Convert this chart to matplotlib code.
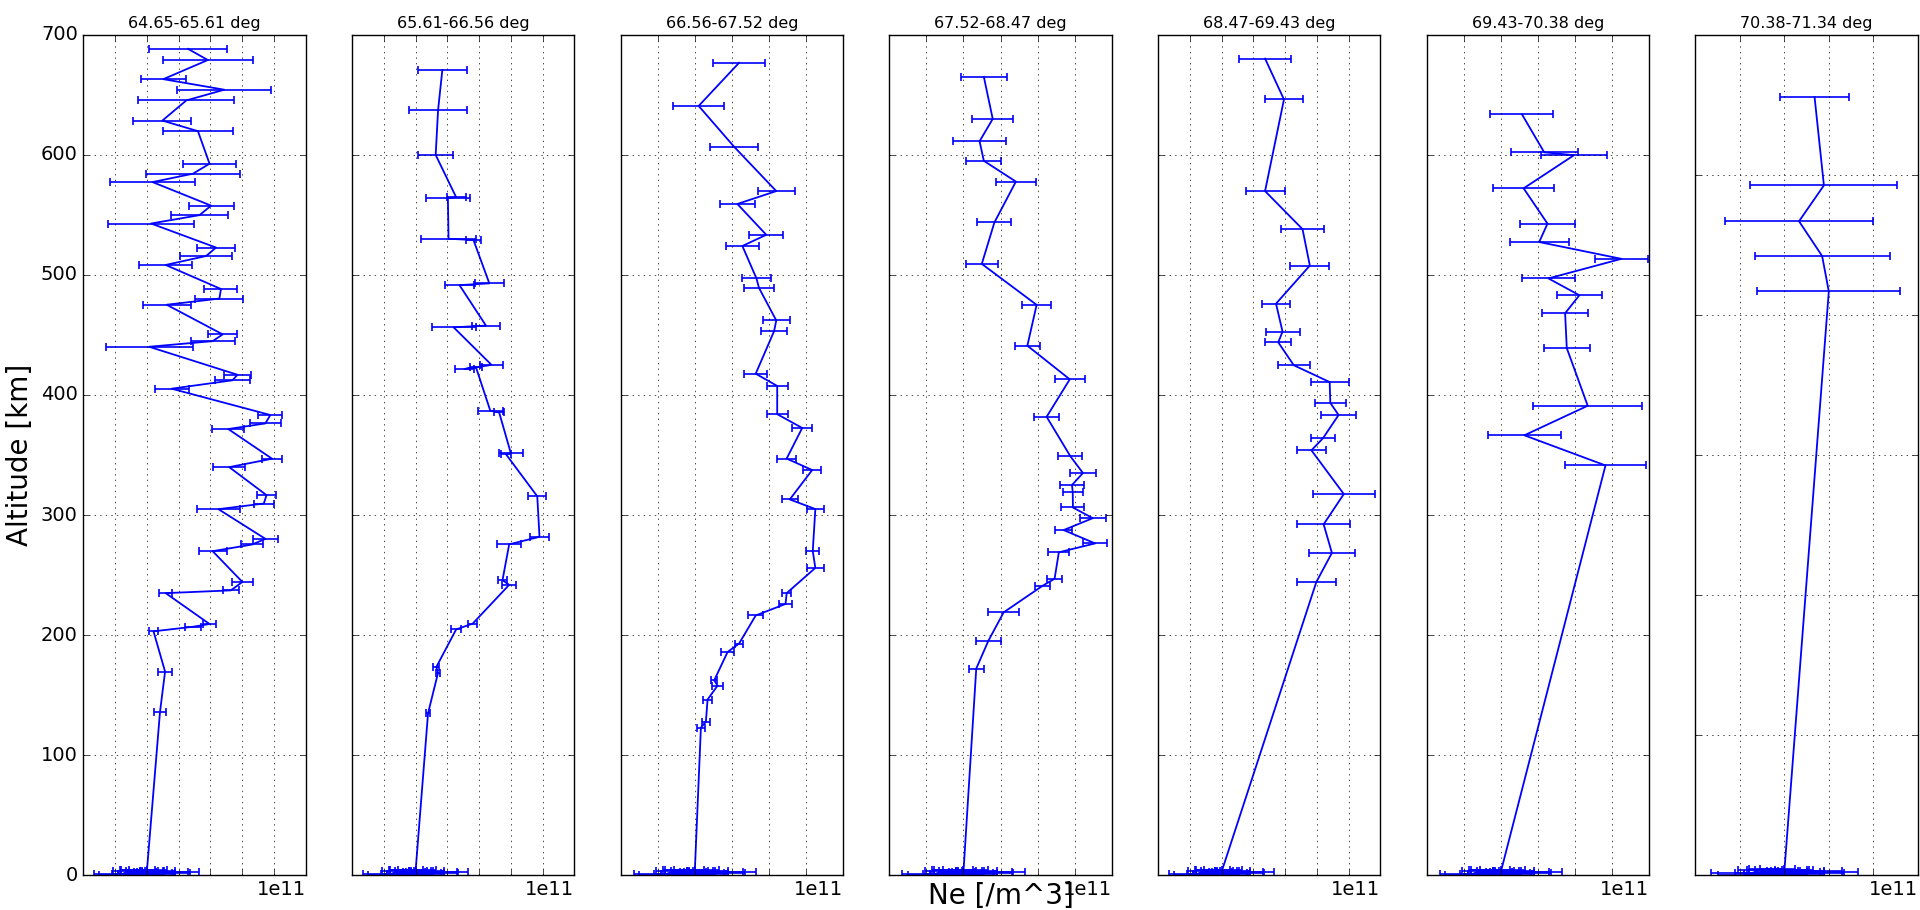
import numpy as np
import matplotlib
matplotlib.use("Agg")
import matplotlib.pyplot as plt

# electron density is kept in units of 1e11 m^-3
NE_UNIT = 1e11

titles = [
    "64.65-65.61 deg", "65.61-66.56 deg", "66.56-67.52 deg", "67.52-68.47 deg",
    "68.47-69.43 deg", "69.43-70.38 deg", "70.38-71.34 deg",
]

alt_1 = [688.1, 678.8, 662.9, 654.1, 645.2, 628.4, 619.6, 592.5, 584.2, 577.2,
         557.6, 549.7, 542.7, 522.7, 515.7, 508.2, 488.2, 480.2, 475.1, 450.4,
         444.8, 440.1, 416.8, 412.2, 405.2, 383.3, 376.3, 371.6, 346.9, 339.9,
         316.6, 309.6, 304.9, 280.2, 275.5, 269.9, 244.3, 237.3, 235.0, 209.3,
         207.0, 203.2, 169.7, 136.1]
ne_1 = [0.660, 0.784, 0.504, 0.888, 0.649, 0.498, 0.722, 0.795, 0.691, 0.436,
        0.805, 0.732, 0.427, 0.836, 0.774, 0.519, 0.867, 0.857, 0.525, 0.878,
        0.815, 0.415, 0.971, 0.940, 0.556, 1.178, 1.147, 0.913, 1.189, 0.919,
        1.154, 1.137, 0.851, 1.147, 1.064, 0.815, 1.002, 0.929, 0.519, 0.795,
        0.690, 0.442, 0.515, 0.483]
err_1 = [0.244, 0.283, 0.142, 0.296, 0.303, 0.182, 0.220, 0.169, 0.296, 0.265,
         0.142, 0.180, 0.270, 0.120, 0.165, 0.166, 0.104, 0.152, 0.151, 0.090,
         0.138, 0.274, 0.085, 0.110, 0.107, 0.076, 0.100, 0.100, 0.062, 0.099,
         0.059, 0.062, 0.134, 0.078, 0.070, 0.088, 0.067, 0.050, 0.040, 0.040,
         0.050, 0.030, 0.045, 0.040]

alt_2 = [670.6, 636.9, 599.8, 564.6, 563.7, 530.0, 529.0, 492.9, 491.4, 457.7,
         456.3, 425.0, 421.6, 423.0, 386.9, 385.4, 351.7, 350.8, 315.6, 281.9,
         275.6, 245.8, 241.9, 209.6, 204.8, 173.5, 168.7, 135.0]
ne_2 = [0.569, 0.542, 0.527, 0.656, 0.604, 0.608, 0.765, 0.865, 0.677, 0.844,
        0.640, 0.879, 0.708, 0.781, 0.871, 0.927, 1.000, 0.969, 1.167, 1.181,
        0.990, 0.948, 0.990, 0.760, 0.656, 0.531, 0.542, 0.479]
err_2 = [0.153, 0.184, 0.111, 0.060, 0.138, 0.172, 0.050, 0.090, 0.090, 0.090,
         0.138, 0.070, 0.060, 0.040, 0.078, 0.030, 0.076, 0.030, 0.057, 0.060,
         0.076, 0.030, 0.044, 0.030, 0.030, 0.020, 0.015, 0.012]

alt_3 = [676.5, 640.6, 606.5, 569.7, 559.0, 533.3, 524.0, 497.0, 489.0, 462.0,
         453.0, 417.7, 407.5, 384.0, 372.5, 347.0, 337.5, 313.0, 305.0, 270.0,
         256.0, 235.0, 226.0, 216.4, 193.0, 186.0, 162.4, 158.0, 146.4, 128.0,
         123.0]
ne_3 = [0.639, 0.421, 0.613, 0.840, 0.630, 0.786, 0.657, 0.733, 0.747, 0.840,
        0.828, 0.729, 0.845, 0.845, 0.980, 0.896, 1.034, 0.913, 1.051, 1.037,
        1.051, 0.896, 0.890, 0.729, 0.639, 0.577, 0.505, 0.523, 0.469, 0.460,
        0.433]
err_3 = [0.141, 0.137, 0.130, 0.100, 0.096, 0.091, 0.089, 0.079, 0.081, 0.073,
         0.072, 0.061, 0.056, 0.056, 0.054, 0.050, 0.050, 0.042, 0.047, 0.036,
         0.047, 0.024, 0.036, 0.039, 0.022, 0.036, 0.016, 0.030, 0.025, 0.020,
         0.022]

alt_4 = [664.8, 629.8, 611.2, 594.9, 577.6, 543.6, 509.1, 475.0, 441.0, 413.0,
         381.8, 349.0, 335.0, 325.0, 319.0, 306.3, 297.4, 287.5, 276.4, 269.0,
         247.0, 241.0, 219.0, 195.5, 172.2]
ne_4 = [0.510, 0.558, 0.487, 0.510, 0.683, 0.567, 0.499, 0.795, 0.745, 0.974,
        0.849, 0.977, 1.045, 0.986, 0.990, 0.991, 1.098, 0.941, 1.111, 0.915,
        0.892, 0.826, 0.617, 0.535, 0.469]
err_4 = [0.123, 0.110, 0.141, 0.095, 0.109, 0.092, 0.085, 0.078, 0.068, 0.082,
         0.068, 0.065, 0.070, 0.067, 0.053, 0.062, 0.070, 0.047, 0.064, 0.056,
         0.040, 0.041, 0.083, 0.069, 0.040]

alt_5 = [680.0, 646.0, 569.7, 538.0, 507.7, 476.0, 452.7, 443.8, 424.7, 410.7,
         393.4, 383.3, 364.0, 353.9, 317.5, 292.3, 268.5, 244.3]
ne_5 = [0.674, 0.793, 0.674, 0.910, 0.956, 0.743, 0.784, 0.757, 0.855, 1.081,
        1.085, 1.137, 1.039, 0.966, 1.170, 1.043, 1.095, 0.997]
err_5 = [0.162, 0.120, 0.123, 0.136, 0.123, 0.091, 0.107, 0.083, 0.099, 0.120,
         0.097, 0.110, 0.078, 0.092, 0.196, 0.165, 0.144, 0.125]

alt_6 = [633.6, 602.0, 599.6, 572.0, 542.6, 527.3, 513.3, 497.0, 483.0, 468.0,
         439.0, 391.0, 366.4, 341.3]
ne_6 = [0.514, 0.634, 0.795, 0.523, 0.652, 0.607, 1.051, 0.657, 0.824, 0.747,
        0.756, 0.869, 0.527, 0.965]
err_6 = [0.170, 0.181, 0.178, 0.163, 0.150, 0.159, 0.142, 0.145, 0.123, 0.123,
         0.125, 0.294, 0.197, 0.217]

alt_7 = [555.4, 492.4, 466.8, 442.0, 416.7]
ne_7 = [0.536, 0.578, 0.466, 0.570, 0.600]
err_7 = [0.157, 0.331, 0.331, 0.304, 0.322]

# samples with (almost) zero altitude, present in every latitude bin
ground_alt = [3.0, 1.5, 3.6, 1.0, 4.2, 2.4, 0.8, 3.3, 1.8, 2.7, 4.5,
              1.2, 3.9, 0.6, 2.1, 4.0, 1.4, 2.9, 3.5, 0.9, 2.2, 4.4]
ground_ne = [0.40, 0.25, 0.29, 0.34, 0.38, 0.41, 0.44, 0.47, 0.51, 0.55, 0.32,
             0.36, 0.43, 0.30, 0.46, 0.39, 0.27, 0.49, 0.42, 0.35, 0.45, 0.37]
ground_err = [0.06, 0.18, 0.10, 0.12, 0.15, 0.09, 0.13, 0.11, 0.16, 0.18, 0.08,
              0.14, 0.07, 0.20, 0.10, 0.12, 0.09, 0.17, 0.05, 0.11, 0.13, 0.08]

x_limits = [(0, 1.4), (0, 1.4), (0, 1.2), (0, 1.2), (0, 1.4), (0, 1.2), (0, 1.0)]
y_limits = [(0, 700)] * 6 + [(0, 600)]

profiles = [
    (alt_1, ne_1, err_1), (alt_2, ne_2, err_2), (alt_3, ne_3, err_3),
    (alt_4, ne_4, err_4), (alt_5, ne_5, err_5), (alt_6, ne_6, err_6),
    (alt_7, ne_7, err_7),
]

plt.style.use("classic")
fig, axes = plt.subplots(1, 7, figsize=(19.2, 9.1), dpi=100, facecolor="white")
fig.subplots_adjust(left=0.0434, right=0.9988, top=0.962, bottom=0.038, wspace=0.209)

for i, (ax, (alt, ne, err)) in enumerate(zip(axes, profiles)):
    alt_all = np.array(alt + ground_alt)
    ne_all = np.array(ne + ground_ne) * NE_UNIT
    err_all = np.array(err + ground_err) * NE_UNIT
    ax.errorbar(ne_all, alt_all, xerr=err_all, color="b", ecolor="b",
                capsize=3, linewidth=1.3, elinewidth=1.2, capthick=1.2)
    ax.set_xlim(x_limits[i][0] * NE_UNIT, x_limits[i][1] * NE_UNIT)
    ax.set_ylim(*y_limits[i])
    ax.grid(True)
    ax.set_title(titles[i], fontsize=11.5)
    plt.setp(ax.get_xticklabels(), visible=False)
    ax.xaxis.get_offset_text().set_fontsize(14)
    ax.tick_params(labelsize=14)
    if i > 0:
        plt.setp(ax.get_yticklabels(), visible=False)

axes[0].set_ylabel("Altitude [km]", fontsize=20)
axes[3].set_xlabel("Ne [/m^3]", fontsize=20)

fig.savefig("out.png", dpi=100, facecolor="white")
